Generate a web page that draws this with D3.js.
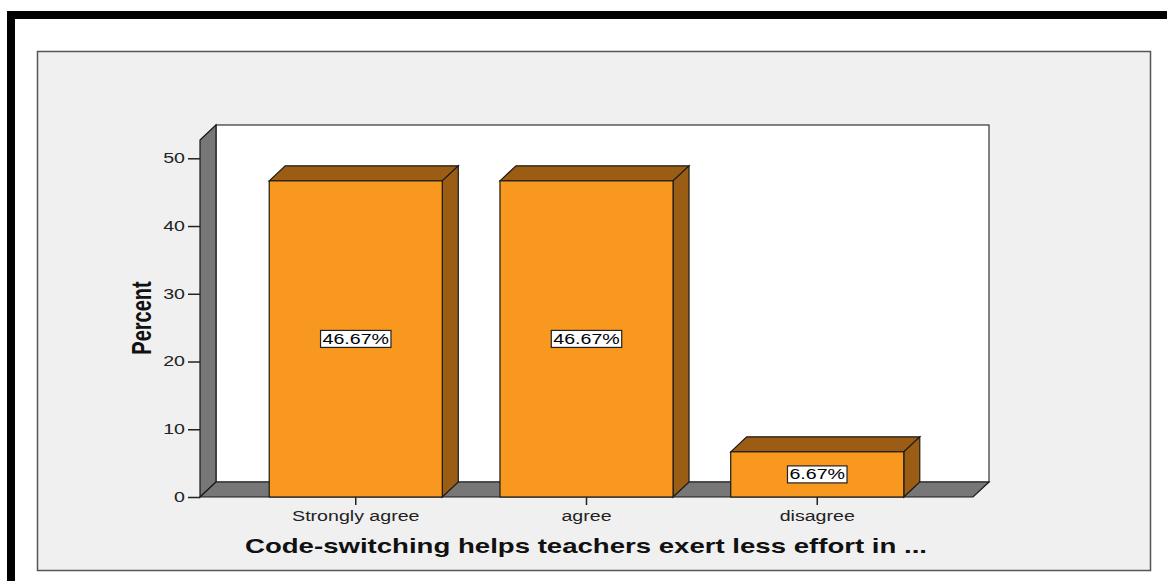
<!DOCTYPE html>
<html>
<head>
<meta charset="utf-8">
<script src="https://cdn.jsdelivr.net/npm/d3@7"></script>
<style>
  html, body { margin: 0; padding: 0; background: #fff; }
  svg { display: block; }
  text { font-family: "Liberation Sans", Arial, sans-serif; }
</style>
</head>
<body>
<svg id="chart" width="1167" height="581"></svg>
<script>
// Response categories and their percentages
const categories = ["Strongly agree", "agree", "disagree"];
const percents = [46.67, 46.67, 6.67];
const yTicks = [0, 10, 20, 30, 40, 50];
const xTitle = "Code-switching helps teachers exert less effort in ...";
const yTitle = "Percent";

const svg = d3.select("#chart");
const W = 1167, H = 581;

// horizontal stretch used by every piece of text
const SX = 1.4;

// 3D depth offset of the plot box
const DX = 16, DY = -15;

// front plane of the plot
const plotLeft = 200, plotRight = 973, plotBottom = 497, plotTop = 140;

const y = d3.scaleLinear().domain([0, 52.7]).range([plotBottom, plotTop]);
const x = d3.scaleBand().domain(categories).range([plotLeft, plotRight])
  .paddingInner(0.25).paddingOuter(0.3);

// outer black frame (only top and left edges fall inside the page)
svg.append("rect")
  .attr("x", 11).attr("y", 15).attr("width", W + 20).attr("height", H + 20)
  .attr("fill", "#fff").attr("stroke", "#000").attr("stroke-width", 8);

// grey chart panel
svg.append("rect")
  .attr("x", 37.5).attr("y", 51.5).attr("width", 1113).attr("height", 519)
  .attr("fill", "#f0f0f0").attr("stroke", "#555").attr("stroke-width", 1.5);

// back wall
svg.append("rect")
  .attr("x", plotLeft + DX).attr("y", plotTop + DY)
  .attr("width", plotRight - plotLeft).attr("height", plotBottom - plotTop)
  .attr("fill", "#fff").attr("stroke", "#333").attr("stroke-width", 1.2);

const line = d3.line();

// left wall
svg.append("path")
  .attr("d", line([[plotLeft, plotTop], [plotLeft + DX, plotTop + DY], [plotLeft + DX, plotBottom + DY], [plotLeft, plotBottom]]) + "Z")
  .attr("fill", "#777").attr("stroke", "#1a1a1a").attr("stroke-width", 1.2);

// floor
svg.append("path")
  .attr("d", line([[plotLeft, plotBottom], [plotLeft + DX, plotBottom + DY], [plotRight + DX, plotBottom + DY], [plotRight, plotBottom]]) + "Z")
  .attr("fill", "#777").attr("stroke", "#1a1a1a").attr("stroke-width", 1.2);

// y axis ticks and labels
const yAxis = d3.axisLeft(y).tickValues(yTicks).tickSize(12).tickSizeOuter(0).tickPadding(3);
const gy = svg.append("g").attr("transform", `translate(${plotLeft},0)`).call(yAxis);
gy.select(".domain").remove();
gy.selectAll(".tick line").attr("stroke", "#222").attr("stroke-width", 1.5);
gy.selectAll(".tick text")
  .attr("fill", "#222").attr("font-size", 14)
  .each(function () {
    const t = d3.select(this);
    const xx = +t.attr("x");
    t.attr("x", 0).attr("transform", `translate(${xx},0) scale(${SX},1)`);
  });

// bars
const bars = svg.append("g");
categories.forEach((c, i) => {
  const v = percents[i];
  const x0 = x(c), x1 = x(c) + x.bandwidth();
  const yT = y(v), y0 = y(0);
  const g = bars.append("g");
  // top face
  g.append("path")
    .attr("d", line([[x0, yT], [x0 + DX, yT + DY], [x1 + DX, yT + DY], [x1, yT]]) + "Z")
    .attr("fill", "#9b5c13").attr("stroke", "#1a1a1a").attr("stroke-width", 1.2);
  // right side
  g.append("path")
    .attr("d", line([[x1, yT], [x1 + DX, yT + DY], [x1 + DX, y0 + DY], [x1, y0]]) + "Z")
    .attr("fill", "#9b5c13").attr("stroke", "#1a1a1a").attr("stroke-width", 1.2);
  // front face
  g.append("rect")
    .attr("x", x0).attr("y", yT).attr("width", x1 - x0).attr("height", y0 - yT)
    .attr("fill", "#f8981e").attr("stroke", "#1a1a1a").attr("stroke-width", 1.2);

  // value label in a white box at the middle of the bar
  const cx = x0 + x.bandwidth() / 2, cy = y(v / 2);
  const lg = g.append("g").attr("transform", `translate(${cx},${cy})`);
  const box = lg.append("rect");
  const txt = lg.append("text")
    .attr("text-anchor", "middle").attr("dy", "0.36em")
    .attr("font-size", 14).attr("fill", "#000")
    .attr("transform", `scale(${SX},1)`)
    .text(v.toFixed(2) + "%");
  const w = txt.node().getComputedTextLength() * SX + 4;
  box.attr("x", -w / 2).attr("y", -8.5).attr("width", w).attr("height", 17)
    .attr("fill", "#fff").attr("stroke", "#222").attr("stroke-width", 1.2);
});

// category ticks and labels
const gx = svg.append("g");
categories.forEach(c => {
  const cx = x(c) + x.bandwidth() / 2;
  gx.append("line")
    .attr("x1", cx).attr("x2", cx).attr("y1", plotBottom).attr("y2", plotBottom + 8)
    .attr("stroke", "#222").attr("stroke-width", 1.5);
  gx.append("text")
    .attr("transform", `translate(${cx},521) scale(${SX},1)`)
    .attr("text-anchor", "middle").attr("font-size", 14).attr("fill", "#222")
    .text(c);
});

// axis titles
svg.append("text")
  .attr("x", 586).attr("y", 553)
  .attr("text-anchor", "middle").attr("font-size", 21).attr("font-weight", "bold")
  .attr("fill", "#111")
  .attr("textLength", 682).attr("lengthAdjust", "spacingAndGlyphs")
  .text(xTitle);

svg.append("text")
  .attr("transform", `translate(151,318) scale(${SX},1) rotate(-90)`)
  .attr("text-anchor", "middle").attr("font-size", 20).attr("font-weight", "bold")
  .attr("fill", "#111")
  .text(yTitle);
</script>
</body>
</html>
